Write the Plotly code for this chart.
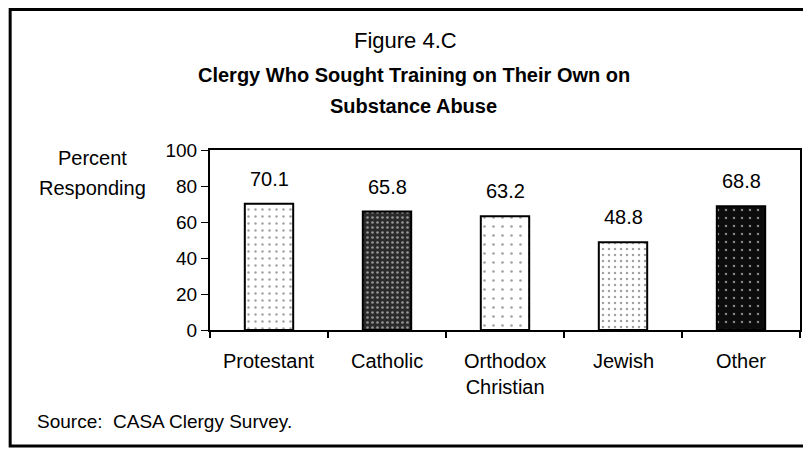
import plotly.graph_objects as go

# data
groups = ['Protestant', 'Catholic', 'Orthodox<br>Christian', 'Jewish', 'Other']
pct = [70.1, 65.8, 63.2, 48.8, 68.8]
pct_text = ['70.1', '65.8', '63.2', '48.8', '68.8']

FONT = 'Liberation Sans, Arial, sans-serif'

fig = go.Figure()

fig.add_trace(go.Bar(
    x=groups,
    y=pct,
    width=0.41,
    marker=dict(
        color=['white', '#2a2a2a', 'white', 'white', '#0c0c0c'],
        line=dict(color='black', width=2),
        pattern=dict(
            shape=['.', '.', '.', '.', '.'],
            fgcolor=['#222222', '#bdbdbd', '#333333', '#222222', '#4a4a4a'],
            size=[7, 5, 9, 6, 8],
            solidity=[0.1, 0.22, 0.07, 0.14, 0.08],
        ),
    ),
    hoverinfo='x+y',
    showlegend=False,
))

# value labels above bars, category labels a bit lower than plotly puts them
for g, v, t in zip(groups, pct, pct_text):
    fig.add_annotation(x=g, y=v, text=t, showarrow=False, yanchor='middle',
                       yshift=25, font=dict(family=FONT, size=20, color='black'))
    fig.add_annotation(x=g, y=-0.1, yref='paper', text=g, showarrow=False,
                       yanchor='top', font=dict(family=FONT, size=20, color='black'))


def note(x, y, text, size, xanchor='center'):
    fig.add_annotation(x=x, y=y, xref='paper', yref='paper', text=text,
                       showarrow=False, xanchor=xanchor, yanchor='middle',
                       font=dict(family=FONT, size=size, color='black'))


# headings and notes
note(0.331, 1.611, 'Figure 4.C', 22)
note(0.345, 1.417, '<b>Clergy Who Sought Training on Their Own on</b>', 20)
note(0.345, 1.244, '<b>Substance Abuse</b>', 20)
note(-0.199, 0.956, 'Percent', 20)
note(-0.199, 0.789, 'Responding', 20)
note(-0.296, -0.511, 'Source:  CASA Clergy Survey.', 19, xanchor='left')

# outer frame
fig.add_shape(type='rect', xref='paper', yref='paper',
              x0=-0.3387, x1=1.0084, y0=-0.644, y1=1.781,
              line=dict(color='black', width=3))

fig.update_layout(
    width=803,
    height=442,
    margin=dict(l=202, r=9, t=142, b=120),
    paper_bgcolor='white',
    plot_bgcolor='white',
    font=dict(family=FONT, size=20, color='black'),
    xaxis=dict(
        range=[-0.5, 4.5],
        showline=True, linecolor='black', linewidth=2, mirror=True,
        ticks='outside', tickson='boundaries', ticklen=6, tickwidth=1.5,
        tickcolor='black',
        # real labels are annotations; these are only kept so the ticks draw
        tickfont=dict(family=FONT, size=1, color='rgba(0,0,0,0)'),
        showgrid=False,
    ),
    yaxis=dict(
        range=[0, 100],
        tickvals=[0, 20, 40, 60, 80, 100],
        showline=True, linecolor='black', linewidth=2, mirror=True,
        ticks='outside', ticklen=7, tickcolor='black',
        tickfont=dict(family=FONT, size=19),
        showgrid=False, zeroline=False,
    ),
)

fig.write_html("out.html")
